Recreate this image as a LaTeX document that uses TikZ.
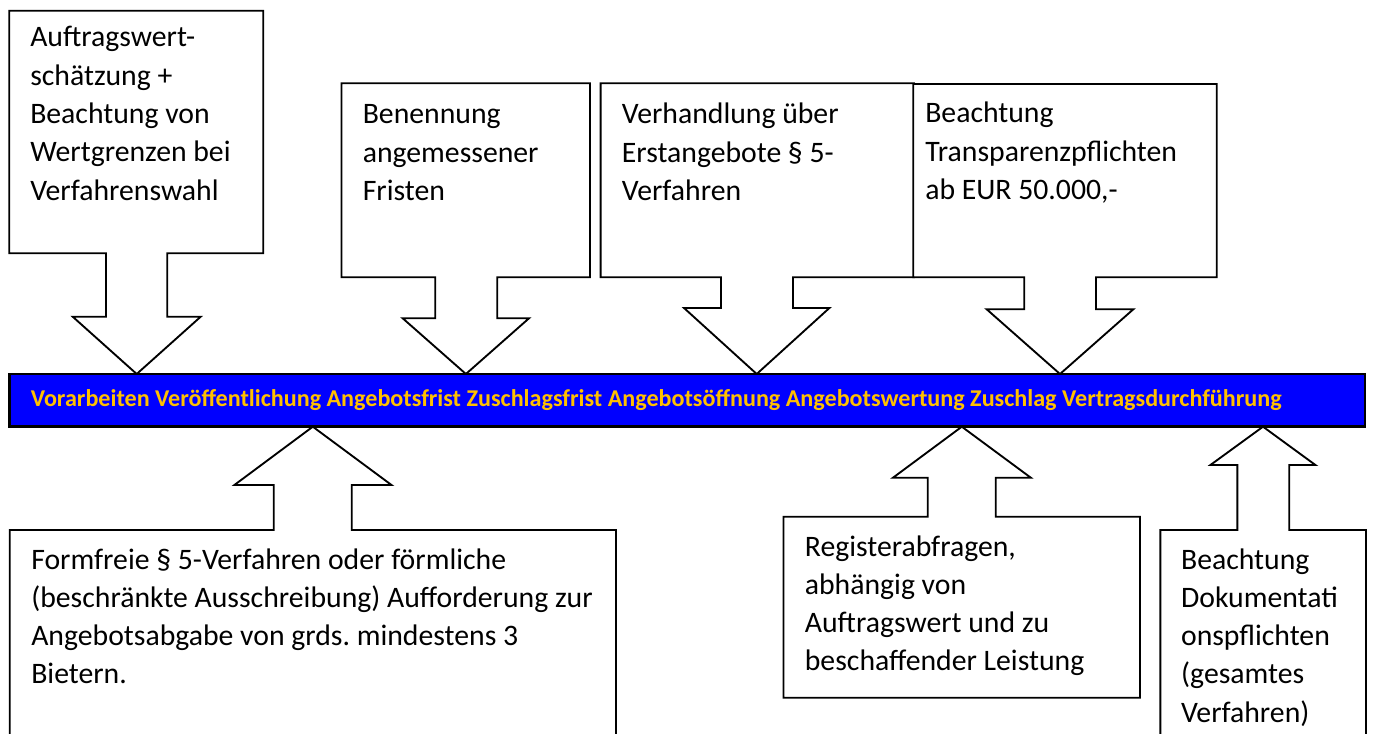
\documentclass[tikz,border=0pt]{standalone}
\usepackage{fontspec}
\usepackage{graphicx}
\setmainfont{Carlito}
\frenchspacing
\definecolor{barblue}{HTML}{0000FF}
\definecolor{bargold}{HTML}{FFC000}
\begin{document}
\begin{tikzpicture}[x=0.75pt,y=-0.75pt,
  callout/.style={draw=black,line width=1.4pt,fill=white,line join=miter},
  barstyle/.style={draw=black,line width=2pt,fill=barblue},
  lbl/.style={anchor=base west,inner sep=0pt,font=\fontsize{22.3}{28.7}\selectfont}]
\useasboundingbox (0,0) rectangle (1373,734);
\clip (0,0) rectangle (1373,734);
% down callouts
\draw[callout] (9.3,10.7) -- (263.3,10.7) -- (263.3,253.3) -- (167.3,253.3) -- (167.3,316.7) -- (200.7,316.7) -- (136.7,374) -- (72.7,316.7) -- (106,316.7) -- (106,253.3) -- (9.3,253.3) -- cycle;
\draw[callout] (341.5,83.3) -- (590,83.3) -- (590,277.3) -- (497.2,277.3) -- (497.2,318.3) -- (529,318.3) -- (465.9,374) -- (402.7,318.3) -- (435.2,318.3) -- (435.2,277.3) -- (341.5,277.3) -- cycle;
\draw[callout] (600.6,83.3) -- (914,83.3) -- (914,277.3) -- (793,277.3) -- (793,308) -- (829.4,308) -- (756.7,374) -- (684,308) -- (721,308) -- (721,277.3) -- (600.6,277.3) -- cycle;
\draw[callout] (913.3,84) -- (1216.7,84) -- (1216.7,277.3) -- (1096,277.3) -- (1096,309.3) -- (1133.3,309.3) -- (1060,374) -- (986.7,309.3) -- (1024.3,309.3) -- (1024.3,277.3) -- (913.3,277.3) -- cycle;
% up callouts
\draw[callout] (9.8,760) -- (9.8,530) -- (273.7,530) -- (273.7,485) -- (234.4,485) -- (312.8,426.7) -- (391.5,485) -- (351.8,485) -- (351.8,530) -- (616,530) -- (616,760) -- cycle;
\draw[callout] (783.5,697.7) -- (783.5,516.7) -- (927.7,516.7) -- (927.7,477.7) -- (893,477.7) -- (961.8,426.7) -- (1030.8,477.7) -- (995.8,477.7) -- (995.8,516.7) -- (1140,516.7) -- (1140,697.7) -- cycle;
\draw[callout] (1160.4,760) -- (1160.4,530) -- (1237.3,530) -- (1237.3,465) -- (1210.4,465) -- (1263,426.7) -- (1315.4,465) -- (1289.2,465) -- (1289.2,530) -- (1366,530) -- (1366,760) -- cycle;
% bar
\draw[barstyle] (9.8,374) rectangle (1365,426.7);
\node[anchor=west,inner sep=0pt,text=bargold,font=\bfseries] (bartext) at (30.6,400.5)
  {\resizebox{938pt}{!}{Vorarbeiten Veröffentlichung Angebotsfrist Zuschlagsfrist Angebotsöffnung Angebotswertung Zuschlag Vertragsdurchführung}};
% texts
\node[lbl] (t1) at (30,47) {\parbox[t]{300pt}{Auftragswert-\\schätzung +\\Beachtung von\\Wertgrenzen bei\\Verfahrenswahl}};
\node[lbl] (t2) at (362.5,124) {\parbox[t]{300pt}{Benennung\\angemessener\\Fristen}};
\node[lbl] (t3) at (621.6,124) {\parbox[t]{300pt}{Verhandlung über\\Erstangebote § 5-\\Verfahren}};
\node[lbl] (t4) at (925,123) {\parbox[t]{300pt}{Beachtung\\Transparenzpflichten\\ab EUR 50.000,-}};
\node[lbl] (t5) at (31,569) {\parbox[t]{500pt}{Formfreie § 5-Verfahren oder förmliche\\(beschränkte Ausschreibung) Aufforderung zur\\Angebotsabgabe von grds. mindestens 3\\Bietern.}};
\node[lbl] (t6) at (804.6,556) {\parbox[t]{300pt}{Registerabfragen,\\abhängig von\\Auftragswert und zu\\beschaffender Leistung}};
\node[lbl] (t7) at (1180.8,569) {\parbox[t]{300pt}{Beachtung\\Dokumentati\\onspflichten\\(gesamtes\\Verfahren)}};
\end{tikzpicture}
\end{document}
